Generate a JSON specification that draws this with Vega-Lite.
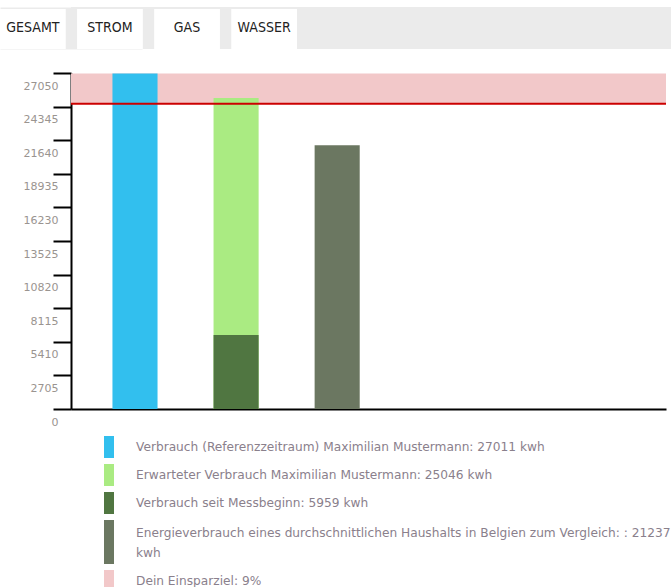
{
  "$schema": "https://vega.github.io/schema/vega-lite/v6.json",
  "padding": {"top": 7, "left": 0, "right": 0, "bottom": 0},
  "spacing": 23,
  "columns": 1,
  "config": {"view": {"stroke": null}},
  "datasets": {
    "tabs": [{"tab": "GESAMT"}, {"tab": "STROM"}, {"tab": "GAS"}, {"tab": "WASSER"}],
    "bars": [
      {"bar": "ref", "series": "Verbrauch (Referenzzeitraum) Maximilian Mustermann: 27011 kwh", "value": 27011},
      {"bar": "exp", "series": "Erwarteter Verbrauch Maximilian Mustermann: 25046 kwh", "value": 25046},
      {"bar": "exp", "series": "Verbrauch seit Messbeginn: 5959 kwh", "value": 5959},
      {"bar": "avg", "series": "Energieverbrauch eines durchschnittlichen Haushalts in Belgien zum Vergleich: : 21237 kwh", "value": 21237}
    ],
    "target": [{"series": "Dein Einsparziel: 9%", "from": 24580, "to": 27011}]
  },
  "concat": [
    {
      "width": 600,
      "height": 42,
      "view": {"fill": "#ebebeb", "stroke": null},
      "data": {"name": "tabs"},
      "layer": [
        {
          "transform": [{"filter": "datum.tab == 'GESAMT'"}],
          "mark": {"type": "rect", "color": "#ffffff", "yOffset": 2},
          "encoding": {
            "x": {"field": "tab", "type": "nominal", "sort": null, "axis": null,
                  "scale": {"domain": ["GESAMT", "STROM", "GAS", "WASSER"], "range": [-71, 226], "paddingInner": 0.147, "paddingOuter": 0}}
          }
        },
        {
          "transform": [{"filter": "datum.tab != 'GESAMT'"}],
          "mark": {"type": "rect", "color": "#ffffff", "yOffset": 2, "y2Offset": -5},
          "encoding": {
            "x": {"field": "tab", "type": "nominal", "sort": null, "axis": null,
                  "scale": {"domain": ["GESAMT", "STROM", "GAS", "WASSER"], "range": [-71, 226], "paddingInner": 0.147, "paddingOuter": 0}}
          }
        },
        {
          "mark": {"type": "text", "font": "DejaVu Sans Condensed", "fontSize": 14, "color": "#222222", "baseline": "middle", "dy": 0},
          "encoding": {
            "x": {"field": "tab", "type": "nominal", "sort": null, "axis": null,
                  "scale": {"domain": ["GESAMT", "STROM", "GAS", "WASSER"], "range": [-71, 226], "paddingInner": 0.147, "paddingOuter": 0}},
            "y": {"datum": "strip", "type": "nominal",
                  "axis": {"labels": false, "ticks": false, "title": null, "domain": true, "domainColor": "#ebebeb", "domainWidth": 142, "minExtent": 71, "maxExtent": 71}},
            "text": {"field": "tab"}
          }
        }
      ]
    },
    {
      "width": 595,
      "height": 336,
      "layer": [
        {
          "data": {"name": "target"},
          "mark": {"type": "rect"},
          "encoding": {
            "y": {"field": "from", "type": "quantitative"},
            "y2": {"field": "to"},
            "color": {"field": "series", "type": "nominal"}
          }
        },
        {
          "data": {"name": "bars"},
          "mark": {"type": "bar"},
          "encoding": {
            "x": {"field": "bar", "type": "nominal", "sort": null,
                  "scale": {"domain": ["ref", "exp", "avg", "-4", "-5", "-6"], "paddingInner": 0.554, "paddingOuter": 0.22, "align": 0.932},
                  "axis": {"labels": false, "ticks": false, "title": null, "domain": true, "domainColor": "#000000", "domainWidth": 2, "grid": false}},
            "y": {"field": "value", "type": "quantitative", "stack": null,
                  "scale": {"domain": [0, 27050], "nice": false, "zero": true},
                  "axis": {"values": [0, 2705, 5410, 8115, 10820, 13525, 16230, 18935, 21640, 24345, 27050],
                           "tickCount": 20, "format": "d",
                           "title": null, "grid": false, "domainColor": "#000000", "domainWidth": 2,
                           "tickColor": "#000000", "tickWidth": 2, "tickSize": 18,
                           "labelPadding": -5, "labelOffset": 13, "labelFlush": false, "labelOverlap": false,
                           "labelFont": "DejaVu Sans", "labelFontSize": 11, "labelColor": "#9a9490",
                           "minExtent": 71, "maxExtent": 71}},
            "color": {"field": "series", "type": "nominal",
                      "scale": {"domain": [
                        "Verbrauch (Referenzzeitraum) Maximilian Mustermann: 27011 kwh",
                        "Erwarteter Verbrauch Maximilian Mustermann: 25046 kwh",
                        "Verbrauch seit Messbeginn: 5959 kwh",
                        "Energieverbrauch eines durchschnittlichen Haushalts in Belgien zum Vergleich: : 21237 kwh",
                        "Dein Einsparziel: 9%"],
                        "range": ["#32bfee", "#aaeb82", "#507641", "#6b7761", "#f2c8c9"]},
                      "legend": {
                        "orient": "none", "legendX": 27, "legendY": 429, "direction": "vertical", "title": null,
                        "symbolType": "M-0.4545,-1H0.4545V1H-0.4545Z", "symbolSize": 484, "symbolStrokeWidth": 0,
                        "labelFont": "DejaVu Sans", "labelFontSize": 12.2, "labelColor": "#8a808c",
                        "labelLimit": 800, "labelOffset": 16, "rowPadding": 6,
                        "labelExpr": "indexof(datum.label, 'Belgien') >= 0 ? ['Energieverbrauch eines durchschnittlichen Haushalts in Belgien zum Vergleich: : 21237', 'kwh'] : datum.label",
                        "encode": {
                          "labels": {"update": {
                            "lineHeight": {"value": 20},
                            "dy": {"signal": "indexof('' + datum.value, 'Belgien') >= 0 ? -9 : 0"}
                          }},
                          "symbols": {"update": {
                            "size": {"signal": "indexof('' + datum.value, 'Belgien') >= 0 ? 1936 : 484"},
                            "shape": {"signal": "indexof('' + datum.value, 'Belgien') >= 0 ? 'M-0.2273,-1H0.2273V1H-0.2273Z' : 'M-0.4545,-1H0.4545V1H-0.4545Z'"}
                          }}
                        }
                      }}
          }
        },
        {
          "data": {"name": "target"},
          "mark": {"type": "rule", "color": "#cc0000", "strokeWidth": 2},
          "encoding": {
            "y": {"field": "from", "type": "quantitative"}
          }
        }
      ]
    }
  ]
}
